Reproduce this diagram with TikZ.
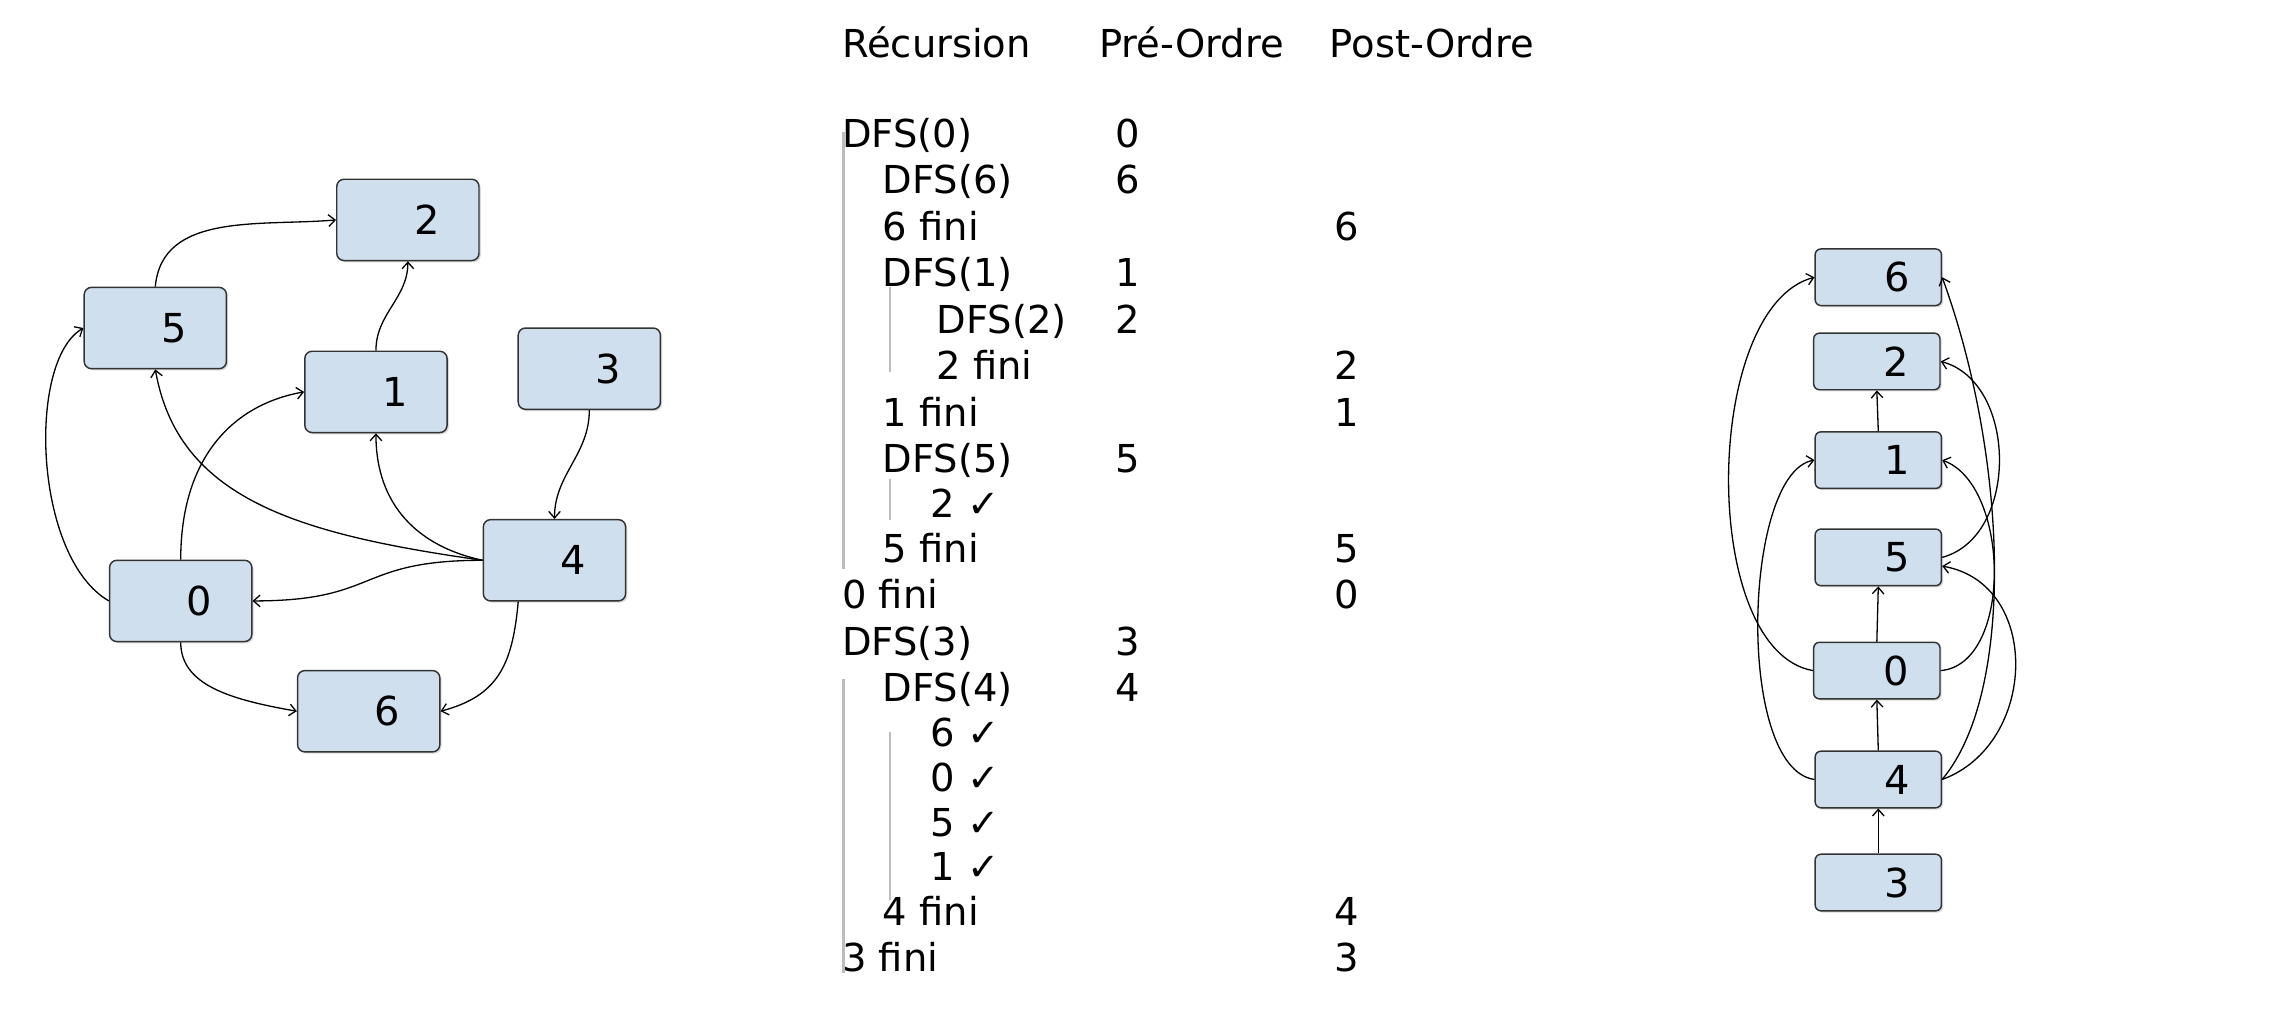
\documentclass[tikz,border=0pt]{standalone}
\usepackage{fontspec}
\setmainfont{DejaVu Sans}
\usetikzlibrary{arrows.meta,shadows}
\definecolor{boxblue}{HTML}{CFDFEE}
\definecolor{boxline}{HTML}{333333}
\definecolor{guide}{HTML}{BDBDBD}
\begin{document}
\begin{tikzpicture}[x=1pt,y=1pt,
  gnode/.style={draw=boxline, line width=1pt, fill=boxblue, rounded corners=5pt,
    minimum width=98pt, minimum height=56pt, inner sep=0pt,
    font=\fontsize{27.5}{31}\selectfont, execute at begin node={\hspace*{26pt}},
    drop shadow={shadow xshift=1.2pt, shadow yshift=-1.2pt, opacity=0.3}},
  rnode/.style={gnode, minimum width=87pt, minimum height=39pt, rounded corners=4pt},
  conn/.style={draw=black, line width=0.9pt, -{Straight Barb[length=4.5pt,width=8pt]}},
  txt/.style={anchor=base west, inner sep=0pt, font=\fontsize{26.5}{30}\selectfont},
  guideline/.style={draw=guide, line width=1.6pt}]
\useasboundingbox (0,0) rectangle (1568,696);

% ---------- left graph ----------
\node[gnode] (n2) at (281,544.5) {2};
\node[gnode] (n5) at (107,470) {5};
\node[gnode] (n1) at (259,426) {1};
\node[gnode] (n3) at (406,442) {3};
\node[gnode] (n4) at (382,310) {4};
\node[gnode] (n0) at (124.5,282) {0};
\node[gnode] (n6) at (254,206) {6};

\draw[conn] (n5.north) to[out=85, in=185] (n2.west);
\draw[conn] (n1.north) to[out=90, in=-90] (n2.south);
\draw[conn] (n0.west) to[out=150, in=210, out distance=60, in distance=45] (n5.west);
\draw[conn] (n0.north) to[out=90, in=190, out distance=70, in distance=50] (n1.west);
\draw[conn] (n4.west) to[out=172, in=-80, out distance=130, in distance=90] (n5.south);
\draw[conn] (n4.west) to[out=168, in=-90, out distance=45, in distance=50] (n1.south);
\draw[conn] (n4.west) to[out=180, in=0, looseness=1.4] (n0.east);
\draw[conn] ([xshift=-25pt]n4.south) to[out=-95, in=15, out distance=45, in distance=40] (n6.east);
\draw[conn] (n0.south) to[out=-90, in=170, out distance=30, in distance=45] (n6.west);
\draw[conn] (n3.south) to[out=-90, in=90] (n4.north);

% ---------- table ----------
\node[txt] (h1) at (580,656.5) {Récursion};
\node[txt] (h2) at (757,656.5) {Pré-Ordre};
\node[txt] (h3) at (916,656.5) {Post-Ordre};

\node[txt] (t1) at (580,594.5) {DFS(0)};
\node[txt] (t2) at (608,562.5) {DFS(6)};
\node[txt] (t3) at (608,530.5) {6 fini};
\node[txt] (t4) at (608,498.5) {DFS(1)};
\node[txt] (t5) at (645,466.5) {DFS(2)};
\node[txt] (t6) at (645,434.5) {2 fini};
\node[txt] (t7) at (608,402.5) {1 fini};
\node[txt] (t8) at (608,370.5) {DFS(5)};
\node[txt] (t9) at (641,339.5) {2 ✓};
\node[txt] (t10) at (608,308.5) {5 fini};
\node[txt] (t11) at (580,276.5) {0 fini};
\node[txt] (t12) at (580,244.5) {DFS(3)};
\node[txt] (t13) at (608,212.5) {DFS(4)};
\node[txt] (t14) at (641,181.5) {6 ✓};
\node[txt] (t15) at (641,150.5) {0 ✓};
\node[txt] (t16) at (641,119.5) {5 ✓};
\node[txt] (t17) at (641,89.5) {1 ✓};
\node[txt] (t18) at (608,58.5) {4 fini};
\node[txt] (t19) at (580,26.5) {3 fini};

\node[txt] (p1) at (768,594.5) {0};
\node[txt] (p2) at (768,562.5) {6};
\node[txt] (p3) at (768,498.5) {1};
\node[txt] (p4) at (768,466.5) {2};
\node[txt] (p5) at (768,370.5) {5};
\node[txt] (p6) at (768,244.5) {3};
\node[txt] (p7) at (768,212.5) {4};

\node[txt] (q1) at (919,530.5) {6};
\node[txt] (q2) at (919,434.5) {2};
\node[txt] (q3) at (919,402.5) {1};
\node[txt] (q4) at (919,308.5) {5};
\node[txt] (q5) at (919,276.5) {0};
\node[txt] (q6) at (919,58.5) {4};
\node[txt] (q7) at (919,26.5) {3};

\draw[guideline] (581,605) -- (581,304);
\draw[guideline] (613,498) -- (613,440);
\draw[guideline] (613,366) -- (613,338);
\draw[guideline] (581,228) -- (581,26);
\draw[guideline] (613,192) -- (613,76);

% ---------- right graph ----------
\node[rnode] (r6) at (1294,505) {6};
\node[rnode] (r2) at (1293,447) {2};
\node[rnode] (r1) at (1294,379) {1};
\node[rnode] (r5) at (1294,312) {5};
\node[rnode] (r0) at (1293,234) {0};
\node[rnode] (r4) at (1294,159) {4};
\node[rnode] (r3) at (1294,88) {3};

\draw[conn] (r3.north) -- (r4.south);
\draw[conn] (r4.north) -- (r0.south);
\draw[conn] (r0.north) -- (r5.south);
\draw[conn] (r1.north) -- (r2.south);
\draw[conn] (r0.west) to[out=170, in=195, out distance=80, in distance=80] (r6.west);
\draw[conn] (r4.west) to[out=172, in=190, out distance=55, in distance=50] (r1.west);
\draw[conn] (r5.east) to[out=15, in=-15, out distance=55, in distance=55] (r2.east);
\draw[conn] (r0.east) to[out=5, in=-20, out distance=50, in distance=50] (r1.east);
\draw[conn] (r4.east) to[out=50, in=-70, out distance=80, in distance=130] (r6.east);
\draw[conn] (r4.east) to[out=20, in=-10, out distance=70, in distance=70] ([yshift=-6pt]r5.east);
\end{tikzpicture}
\end{document}
